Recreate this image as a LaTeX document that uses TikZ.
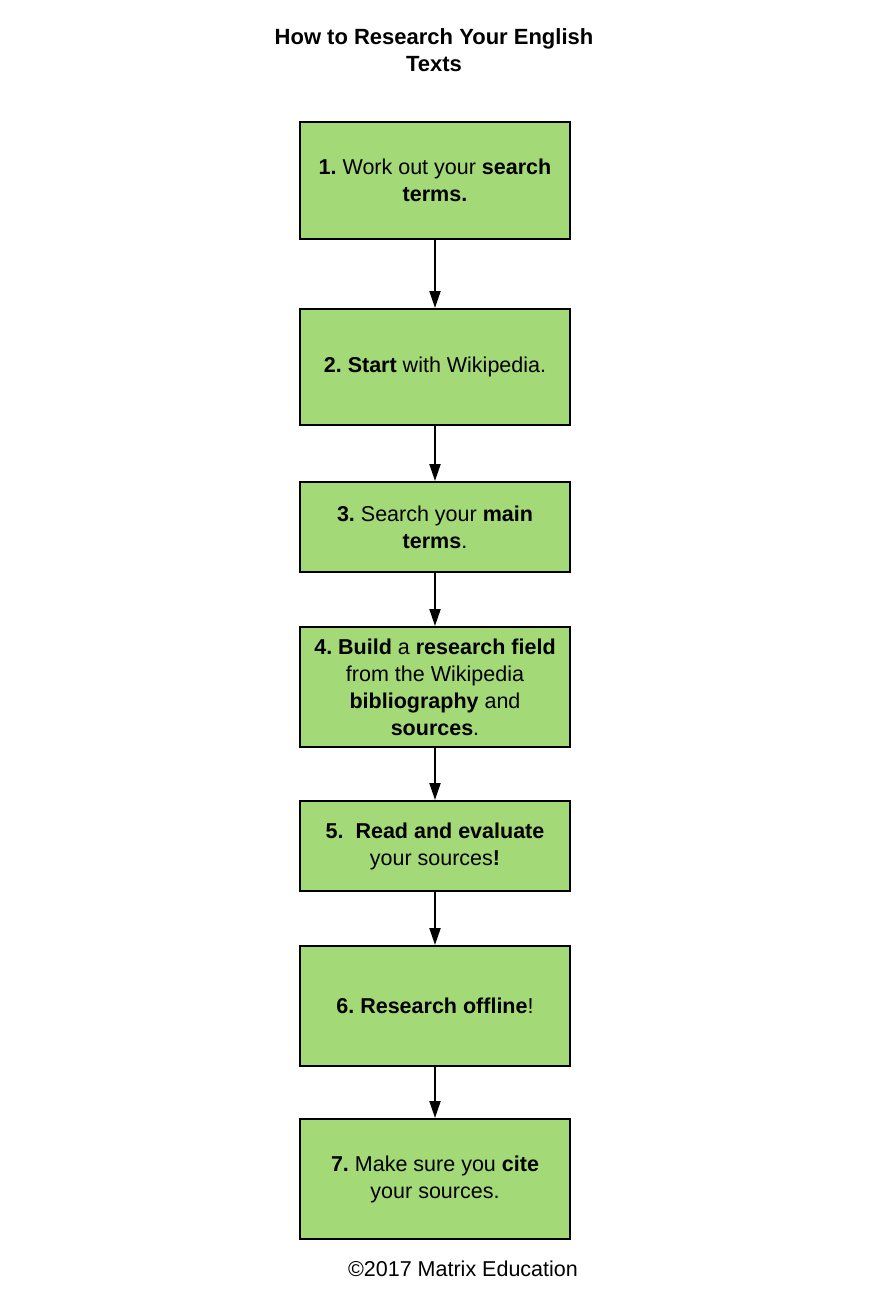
\documentclass[tikz,border=0pt]{standalone}
\usepackage{fontspec}
\setmainfont{Liberation Sans}
\usetikzlibrary{positioning,arrows.meta}
\definecolor{stepgreen}{HTML}{A3D977}
\frenchspacing

\begin{document}
\begin{tikzpicture}[x=1pt,y=1pt,
    stepbox/.style={draw, line width=2pt, rectangle, fill=stepgreen, minimum width=270pt, inner sep=0pt, align=center, font=\fontsize{21.5}{27}\selectfont},
    flow/.style={-{Triangle[width=11pt,length=17pt]}, line width=2pt}]
    \useasboundingbox (0,0) rectangle (870,-1297);

    \node (title) [font=\bfseries\fontsize{22}{27}\selectfont, align=center] at (434,-50) {How to Research Your English\\Texts};

    \node (s1) [stepbox, minimum height=117pt] at (435,-180.5) {\textbf{1.} Work out your \textbf{search}\\\textbf{terms.}};
    \node (s2) [stepbox, minimum height=116pt, below=68pt of s1] {\textbf{2. Start} with Wikipedia.};
    \node (s3) [stepbox, minimum height=90pt, below=55pt of s2] {\textbf{3.} Search your \textbf{main}\\\textbf{terms}.};
    \node (s4) [stepbox, minimum height=120pt, below=53pt of s3] {\textbf{4. Build} a \textbf{research field}\\from the Wikipedia\\\textbf{bibliography} and\\\textbf{sources}.};
    \node (s5) [stepbox, minimum height=90pt, below=52pt of s4] {\textbf{5.\ \ Read and evaluate}\\your sources\textbf{!}};
    \node (s6) [stepbox, minimum height=120pt, below=53pt of s5] {\textbf{6. Research offline}!};
    \node (s7) [stepbox, minimum height=120pt, below=51pt of s6] {\textbf{7.} Make sure you \textbf{cite}\\your sources.};

    \node (copy) [font=\fontsize{21.5}{27}\selectfont] at (463,-1269) {\textcopyright2017 Matrix Education};

    % Arrows between steps
    \draw[flow] (s1) -- (s2);
    \draw[flow] (s2) -- (s3);
    \draw[flow] (s3) -- (s4);
    \draw[flow] (s4) -- (s5);
    \draw[flow] (s5) -- (s6);
    \draw[flow] (s6) -- (s7);
\end{tikzpicture}
\end{document}
